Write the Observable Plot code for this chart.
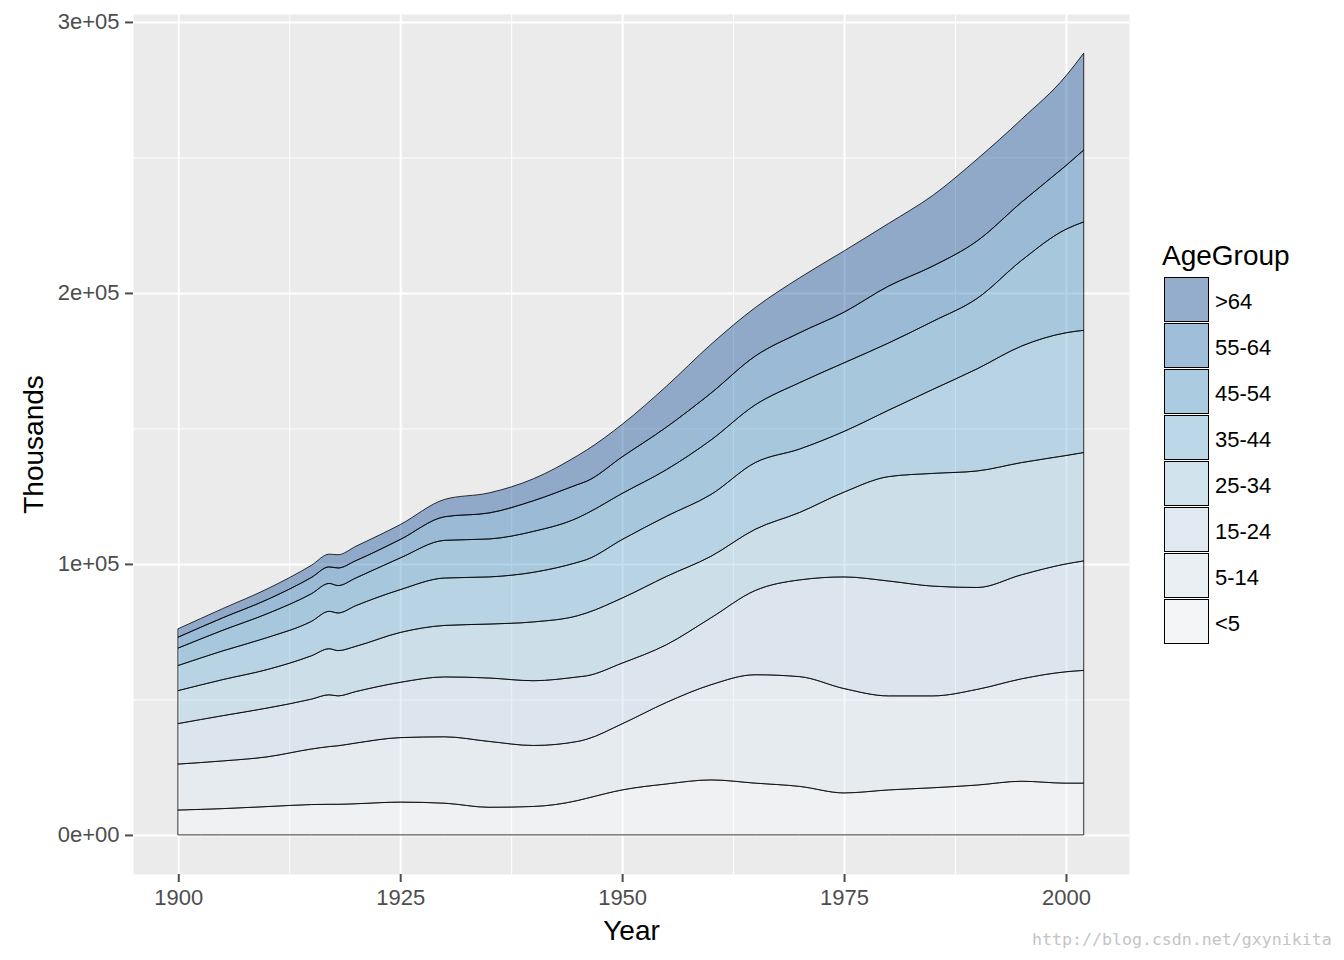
<!DOCTYPE html>
<html>
<head>
<meta charset="utf-8">
<script src="https://cdn.jsdelivr.net/npm/d3@7"></script>
<script src="https://cdn.jsdelivr.net/npm/@observablehq/plot@0.6"></script>
<style>
  html, body { margin: 0; padding: 0; background: #ffffff; }
  #wrap { position: relative; width: 1344px; height: 960px; font-family: "Liberation Sans", Arial, sans-serif; }
  .lg-title { position: absolute; font-size: 28px; color: #000; white-space: nowrap; }
  .lg-key { position: absolute; box-sizing: border-box; border: 1px solid #000; background: #F2F2F2; }
  .lg-key div { width: 100%; height: 100%; opacity: 0.4; }
  .lg-label { position: absolute; font-size: 22px; color: #000; white-space: nowrap; line-height: 1; }
  .wm { position: absolute; font-family: "DejaVu Sans Mono", monospace; font-size: 16.6px; color: #c4c4c4; white-space: nowrap; }
</style>
</head>
<body>
<div id="wrap"></div>
<script>
// ---- data (thousands) ----
const years = [1900,1905,1910,1915,1917,1918,1920,1925,1930,1935,1940,1945,1946,1950,1955,1960,1965,1970,1975,1980,1985,1990,1995,2000,2002];
const ageGroups = ["<5","5-14","15-24","25-34","35-44","45-54","55-64",">64"];
const under5 = [9181,9700,10450,11200,11300,11300,11500,12100,11700,10200,10500,12700,13500,16600,18800,20300,19100,17900,15500,16600,17400,18400,19800,19100,19100];
const age5to14 = [16966,17600,18350,20500,21300,21600,22400,23800,24500,24300,22500,21800,21800,24400,30100,35100,40000,40500,38500,34700,33900,35300,37800,41100,41600];
const age15to24 = [14951,16700,18000,18400,19100,18400,19000,20400,22100,23400,23900,23800,23400,22400,21300,24700,31100,35700,41200,42400,40500,37600,38400,39800,40400];
const age25to34 = [12161,13300,14200,16000,17000,16700,16700,18400,19000,19900,21700,22600,23200,24000,25200,22700,22600,24900,31300,38500,41600,43000,41400,40000,40000];
const age35to44 = [9273,10600,11800,12700,13800,13900,15000,15800,17500,17400,18300,19700,19700,21600,22200,22800,24600,23400,22400,24500,31000,37700,43000,45300,45100];
const age45to54 = [6437,7600,8800,10200,10300,10100,10200,11700,13900,14000,15100,16400,17000,17000,17200,20100,21300,24500,25300,24800,25100,26000,31600,38200,40000];
const age55to64 = [4026,4600,5200,6000,6100,6500,6400,6800,8700,9600,11300,12300,11900,13500,15700,17300,18000,18400,18700,21000,20400,21200,21500,23500,26500];
const age65plus = [3099,3400,3950,4500,4700,4900,5300,5500,6400,7400,8100,10700,11500,12000,15100,18000,17900,20300,22600,23100,26100,30200,30600,33100,35800];

const xMajor = [1900,1925,1950,1975,2000];
const xMinor = [1912.5,1937.5,1962.5,1987.5];
const yMajor = [0,100000,200000,300000];
const yMinor = [50000,150000,250000];
const yTickLabels = ["0e+00","1e+05","2e+05","3e+05"];

const palette = ["#F7FBFF","#DEEBF7","#C6DBEF","#9ECAE1","#6BAED6","#4292C6","#2171B5","#084594"];

// ---- build table ----
const series = [under5, age5to14, age15to24, age25to34, age35to44, age45to54, age55to64, age65plus];
const table = [];
ageGroups.forEach((g, gi) => {
  years.forEach((yr, i) => table.push({Year: yr, AgeGroup: g, Thousands: series[gi][i]}));
});

const tickColor = "#4D4D4D";
const chart = Plot.plot({
  width: 1344,
  height: 960,
  marginLeft: 133,
  marginRight: 215,
  marginTop: 14,
  marginBottom: 86,
  style: {background: "transparent", fontFamily: "'Liberation Sans', Arial, sans-serif", overflow: "visible"},
  x: {domain: [1894.9, 2007.1]},
  y: {domain: [-14425, 302925]},
  color: {domain: ageGroups, range: palette},
  marks: [
    Plot.frame({fill: "#EBEBEB", stroke: null}),
    Plot.gridX(xMinor, {stroke: "#ffffff", strokeOpacity: 1, strokeWidth: 1}),
    Plot.gridY(yMinor, {stroke: "#ffffff", strokeOpacity: 1, strokeWidth: 1}),
    Plot.gridX(xMajor, {stroke: "#ffffff", strokeOpacity: 1, strokeWidth: 2}),
    Plot.gridY(yMajor, {stroke: "#ffffff", strokeOpacity: 1, strokeWidth: 2}),
    Plot.areaY(table, {
      x: "Year", y: "Thousands", z: "AgeGroup", fill: "AgeGroup",
      order: ageGroups, fillOpacity: 0.4,
      stroke: "#000000", strokeWidth: 0.8, curve: "monotone-x"
    }),
    Plot.axisX(xMajor, {
      tickSize: 8, tickPadding: 7, fontSize: 22, color: tickColor, strokeWidth: 2,
      tickFormat: d => String(d), label: null
    }),
    Plot.axisY(yMajor, {
      tickSize: 8, tickPadding: 6, fontSize: 22, color: tickColor, strokeWidth: 2,
      tickFormat: d => yTickLabels[yMajor.indexOf(d)], label: null
    }),
    Plot.text(["Year"], {frameAnchor: "bottom", dy: 57, fontSize: 28, fill: "#000", textAnchor: "middle", lineAnchor: "middle"}),
    Plot.text(["Thousands"], {frameAnchor: "left", dx: -99, rotate: -90, fontSize: 28, fill: "#000", textAnchor: "middle", lineAnchor: "middle"})
  ]
});

const wrap = document.getElementById("wrap");
chart.style.position = "absolute";
chart.style.left = "0px";
chart.style.top = "0px";
wrap.appendChild(chart);

// ---- legend ----
const lgTitle = document.createElement("div");
lgTitle.className = "lg-title";
lgTitle.textContent = "AgeGroup";
lgTitle.style.left = "1162px";
lgTitle.style.top = "240px";
wrap.appendChild(lgTitle);

const legendOrder = ageGroups.slice().reverse();
legendOrder.forEach((g, i) => {
  const top = 277 + i * 46;
  const key = document.createElement("div");
  key.className = "lg-key";
  key.style.left = "1164px";
  key.style.top = top + "px";
  key.style.width = "45px";
  key.style.height = "45px";
  const inner = document.createElement("div");
  inner.style.background = palette[ageGroups.indexOf(g)];
  key.appendChild(inner);
  wrap.appendChild(key);
  const lab = document.createElement("div");
  lab.className = "lg-label";
  lab.textContent = g;
  lab.style.left = "1215px";
  lab.style.top = (top + 14) + "px";
  wrap.appendChild(lab);
});

const wm = document.createElement("div");
wm.className = "wm";
wm.textContent = "http://blog.csdn.net/gxynikita";
wm.style.left = "1032px";
wm.style.top = "930px";
wrap.appendChild(wm);
</script>
</body>
</html>
